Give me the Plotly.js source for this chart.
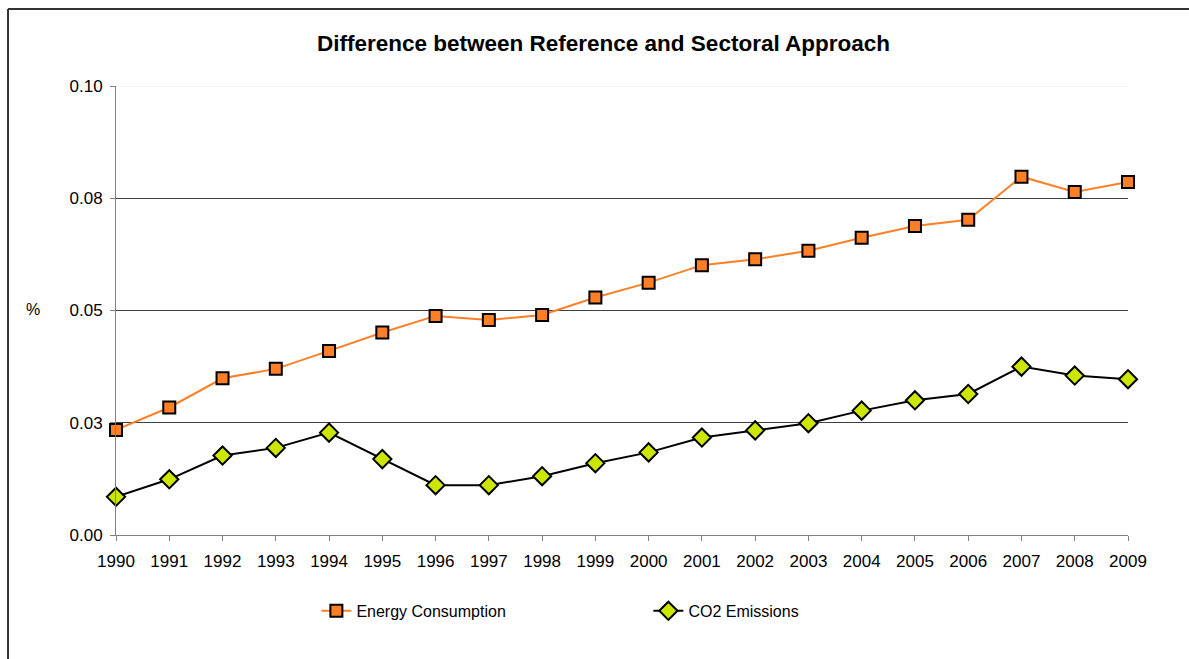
<!DOCTYPE html>
<html>
<head>
<meta charset="utf-8">
<script src="https://cdn.plot.ly/plotly-3.0.1.min.js"></script>
<style>html,body{margin:0;padding:0;background:#fff;overflow:hidden;}#chart{width:1189px;height:659px;overflow:hidden;}</style>
</head>
<body>
<div id="chart"></div>
<script>
const years = [1990,1991,1992,1993,1994,1995,1996,1997,1998,1999,2000,2001,2002,2003,2004,2005,2006,2007,2008,2009];
const energyConsumption = [0.0234,0.0284,0.0349,0.0370,0.0410,0.0451,0.0488,0.0479,0.0490,0.0529,0.0562,0.0601,0.0614,0.0633,0.0662,0.0688,0.0702,0.0798,0.0764,0.0786];
const co2Emissions = [0.0085,0.0124,0.0177,0.0194,0.0228,0.0169,0.0111,0.0111,0.0131,0.0160,0.0184,0.0217,0.0233,0.0249,0.0277,0.0300,0.0314,0.0375,0.0355,0.0347];
const yTickVals = [0, 0.025, 0.05, 0.075, 0.1];
const yTickText = ["0.00","0.03","0.05","0.08","0.10"];
const seriesNames = ["Energy Consumption","CO2 Emissions"];

const font = "Liberation Sans, Arial, sans-serif";

const traces = [
  {
    x: years, y: energyConsumption, name: seriesNames[0], type: 'scatter', mode: 'lines+markers',
    line: {color: '#FF7F27', width: 2},
    marker: {symbol: 'square', size: 12, color: '#FF7F27', line: {color: '#000', width: 2}},
    cliponaxis: false
  },
  {
    x: years, y: co2Emissions, name: seriesNames[1], type: 'scatter', mode: 'lines+markers',
    line: {color: '#000', width: 2},
    marker: {symbol: 'diamond', size: 14, color: '#CCE600', line: {color: '#000', width: 2}},
    cliponaxis: false
  }
];

const layout = {
  width: 1189, height: 659,
  margin: {l: 116, r: 61, t: 86, b: 124},
  paper_bgcolor: '#fff', plot_bgcolor: '#fff',
  font: {family: font, size: 16, color: '#000'},
  title: {text: '<b>Difference between Reference and Sectoral Approach</b>', x: 0.5076, xref: 'container', xanchor: 'center', y: 1 - 43/659, yref: 'container', yanchor: 'middle', font: {family: font, size: 22.5, color: '#000'}},
  xaxis: {
    range: [1990, 2009], tickvals: years, ticktext: years.map(String), tickangle: 0,
    showgrid: false, zeroline: false, showline: true, linecolor: '#808080', linewidth: 1,
    ticks: 'outside', ticklen: 5, tickcolor: '#808080', tickfont: {size: 17}, ticklabelstandoff: 6
  },
  yaxis: {
    range: [0, 0.1], tickvals: yTickVals, ticktext: yTickText,
    showgrid: true, gridcolor: '#404040', gridwidth: 1, zeroline: false,
    showline: true, linecolor: '#808080', linewidth: 1,
    ticks: 'outside', ticklen: 5, tickcolor: '#808080', tickfont: {size: 17}, ticklabelstandoff: 4
  },
  showlegend: true,
  legend: {orientation: 'h', x: 0.198, xanchor: 'left', y: -0.169, yanchor: 'middle', entrywidth: 287, entrywidthmode: 'pixels', font: {size: 16}, bgcolor: 'rgba(0,0,0,0)'},
  annotations: [
    {text: '%', xref: 'paper', yref: 'paper', x: -0.082, y: 0.503, showarrow: false, font: {size: 16}, xanchor: 'center', yanchor: 'middle'}
  ],
  shapes: [
    {type: 'line', xref: 'paper', yref: 'y', x0: 0, x1: 1, y0: 0.1, y1: 0.1, line: {color: '#f2f2f2', width: 1.5}, layer: 'above'},
    {type: 'line', xref: 'paper', yref: 'paper', x0: -0.1067, x1: 1.1, y0: 1.1715, y1: 1.1715, line: {color: '#333', width: 2}, layer: 'below'},
    {type: 'line', xref: 'paper', yref: 'paper', x0: -0.1067, x1: -0.1067, y0: -0.3, y1: 1.1715, line: {color: '#333', width: 2}, layer: 'below'}
  ]
};

Plotly.newPlot('chart', traces, layout, {displayModeBar: false, staticPlot: true});
</script>
</body>
</html>
